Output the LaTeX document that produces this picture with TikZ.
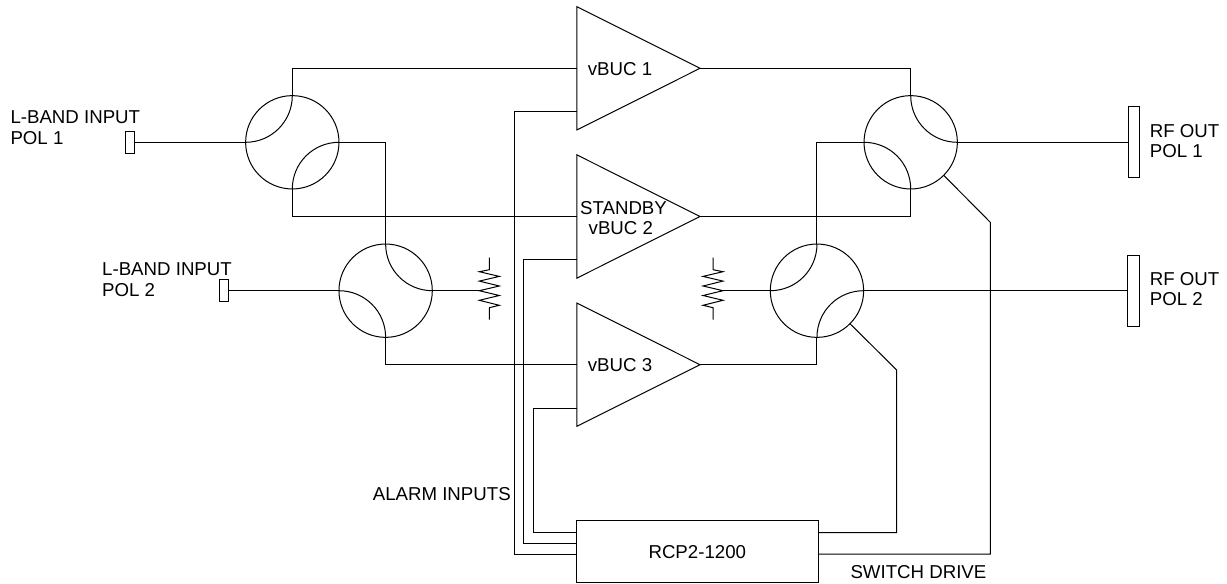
\documentclass[tikz,border=0pt]{standalone}
\usepackage{fontspec}
\setmainfont{Liberation Sans}
\usetikzlibrary{shapes.geometric}

\begin{document}
\begin{tikzpicture}[x=0.75pt, y=0.75pt, line width=0.75pt,
    coupler/.style = {draw, circle, inner sep=0pt, outer sep=0pt, minimum size=70pt},
    amp/.style = {draw, isosceles triangle, isosceles triangle stretches, inner sep=0pt, outer sep=0pt, minimum width=92.4pt, minimum height=92.3pt, anchor=apex},
    port/.style = {draw, rectangle, inner sep=0pt, outer sep=0pt, minimum width=7pt},
    unit/.style = {draw, rectangle, inner sep=0pt, outer sep=0pt, minimum width=181.2pt, minimum height=46.3pt},
    txt/.style = {inner sep=0pt, align=left, font=\fontsize{14}{15.5}\selectfont},
    hv/.style = {to path={-| (\tikztotarget)}},
    vh/.style = {to path={|- (\tikztotarget)}},
    wn/.style = {out=0, in=-90},
    ws/.style = {out=0, in=90},
    es/.style = {out=180, in=90},
    ne/.style = {out=-90, in=180},
    load/.pic = {
      \draw (0,33) -- (0,21) -- (10,19) -- (-10,14.3) -- (10,9.6) -- (-10,4.7) -- (10,0) -- (-10,-4.8) -- (10,-9.6) -- (-10,-14.6) -- (0,-17) -- (0,-29);
      \coordinate (-w) at (10,0);
    }]
      \useasboundingbox (0,0) rectangle (1227,583);

      \node[coupler](c1) at (292.3,440.7){};
      \node[coupler](c2) [below of=c1, xshift=70pt, node distance=111.3pt]{};
      \node[coupler](c3) [right of=c1, node distance=463.8pt]{};
      \node[coupler](c4) [below of=c3, xshift=-70.3pt, node distance=111.3pt]{};

      \node[port, minimum height=16.8pt](p1) [left of=c1, node distance=121.6pt]{};
      \node[port, minimum height=16.8pt](p2) [left of=c2, node distance=121.3pt]{};
      \node[port, minimum width=8.5pt, minimum height=53.2pt](rf1) [right of=c3, node distance=167.3pt]{};
      \node[port, minimum width=8.5pt, minimum height=53.2pt](rf2) [right of=c4, node distance=237.5pt]{};

      \node[amp](a1) at (700,514.7){};
      \node[amp](a2) at (700,366.5){};
      \node[amp](a3) at (700,218.3){};

      \node[unit](rcp) at (697.5,31.8){};

      \pic[xscale=-1] (r1) at (489.3,292.3) {load};
      \pic (r2) at (713,292.3) {load};

      % control lines
      \coordinate (i1) at (576.7,471.3);
      \coordinate (i2) at (576.7,323.7);
      \coordinate (i3) at (576.7,175);
      \coordinate (b1) at (576.7,29);
      \coordinate (b2) at (576.7,39.7);
      \coordinate (b3) at (576.7,50.3);
      \coordinate (s1) at (818.1,50.3);
      \coordinate (s2) at (818.1,29);
      \coordinate (k3) at (990.3,360.7);
      \coordinate (k4) at (896.7,213);

      \path
      (p1.east) edge (c1.west)
      (p2.east) edge (c2.west)
      (c1.west) edge[wn] (c1.north)
      (c1.east) edge[es] (c1.south)
      (c2.north) edge[ne] (c2.east)
      (c2.west) edge[ws] (c2.south)
      (c3.north) edge[ne] (c3.east)
      (c3.west) edge[ws] (c3.south)
      (c4.west) edge[wn] (c4.north)
      (c4.east) edge[es] (c4.south)
      (c1.north) edge[vh] (a1.lower side)
      (c1.south) edge[vh] (a2.lower side)
      (c1.east) edge[hv] (c2.north)
      (c2.south) edge[vh] (a3.lower side)
      (c2.east) edge (r1-w)
      (a1.apex) edge[hv] (c3.north)
      (a2.apex) edge[hv] (c3.south)
      (a3.apex) edge[hv] (c4.south)
      (c3.west) edge[hv] (c4.north)
      (c4.west) edge (r2-w)
      (c3.east) edge (rf1.west)
      (c4.east) edge (rf2.west)
      ;

      \draw (b1) -- ++(-62.7,0) |- (i1);
      \draw (b2) -- ++(-53.4,0) |- (i2);
      \draw (b3) -- ++(-43.4,0) |- (i3);
      \draw (s1) -| (k4) -- (c4.-45);
      \draw (s2) -| (k3) -- (c3.-45);

      \node[txt, anchor=west](t1) at (10,455.5){L-BAND INPUT\\POL 1};
      \node[txt, anchor=west](t2) at (101.7,303){L-BAND INPUT\\POL 2};
      \node[txt, anchor=west](t3) at (1149.3,442){RF OUT\\POL 1};
      \node[txt, anchor=west](t4) at (1149.3,294){RF OUT\\POL 2};
      \node[txt, anchor=west](t5) at (372.3,89){ALARM INPUTS};
      \node[txt, anchor=west](t6) at (850,10.5){SWITCH DRIVE};
      \node[txt](t7) at (620,514){vBUC 1};
      \node[txt, align=center](t8) at (623.5,365){STANDBY\\vBUC 2\hspace*{4pt}};
      \node[txt](t9) at (620,218){vBUC 3};
      \node[txt](t10) at (697.3,31.3){RCP2-1200};
    \end{tikzpicture}
\end{document}
